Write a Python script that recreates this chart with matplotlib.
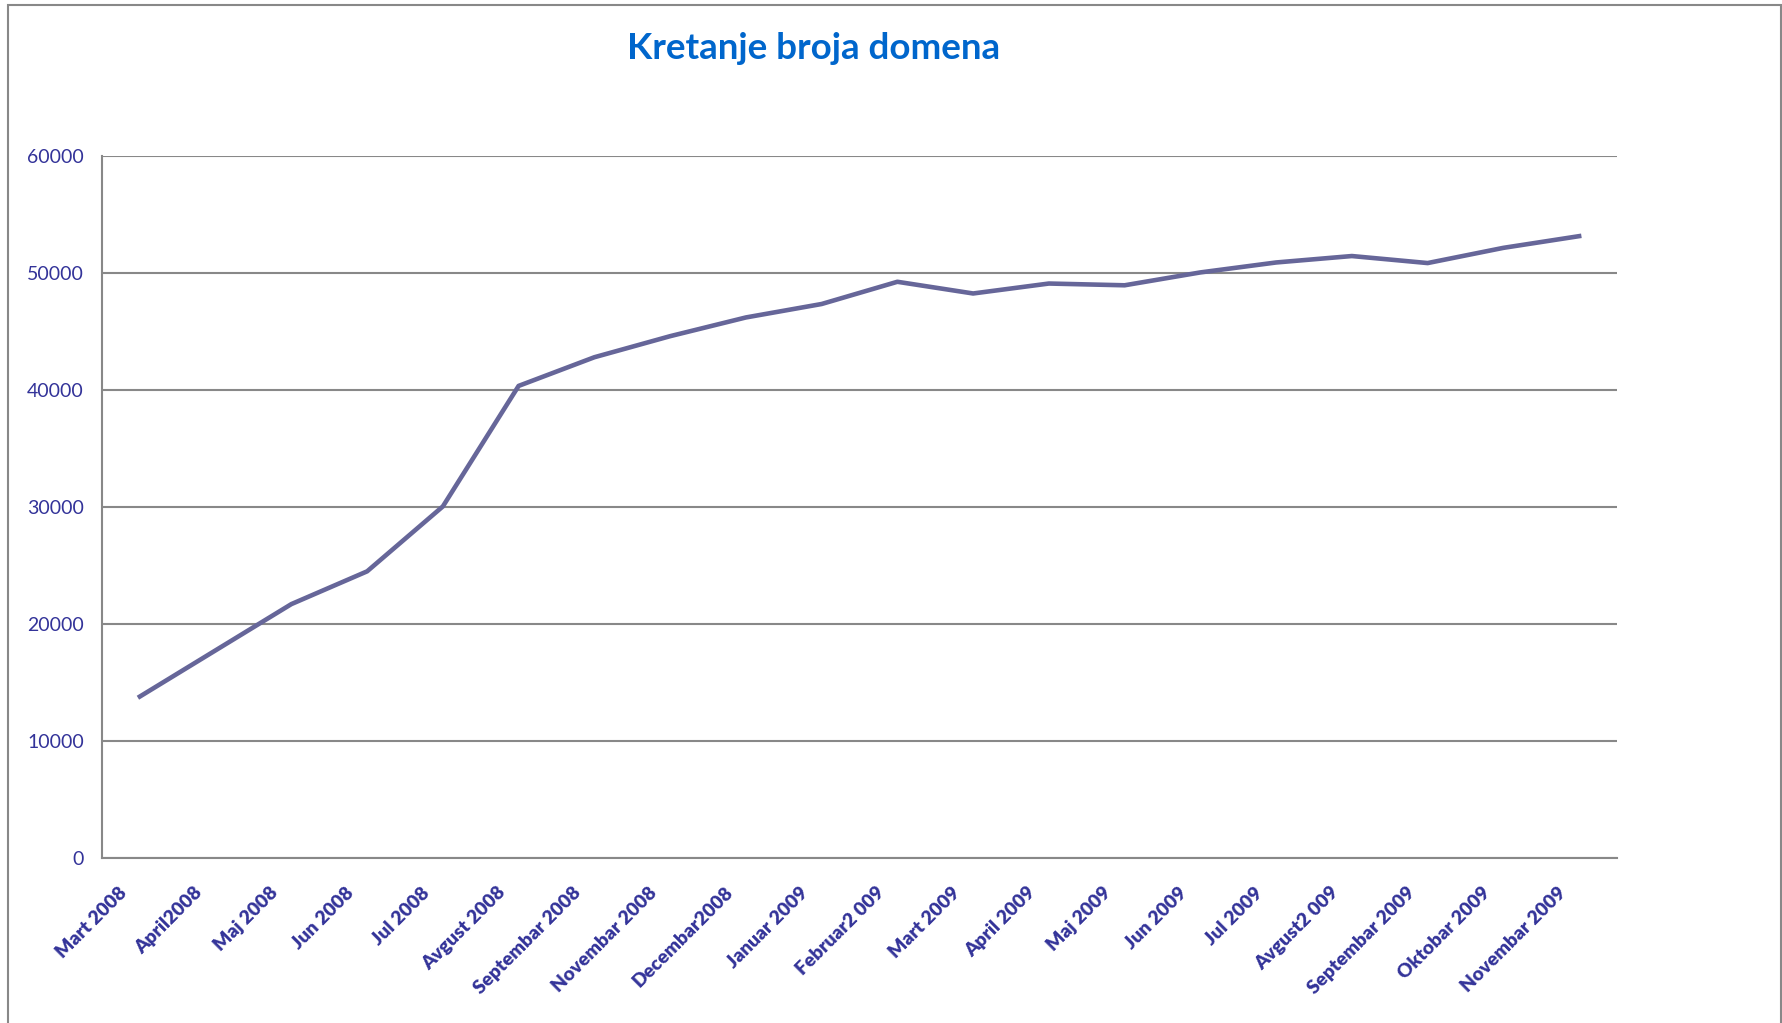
import matplotlib
matplotlib.use('Agg')
import matplotlib.pyplot as plt
import matplotlib.transforms as mtransforms
from matplotlib.patches import Rectangle

plt.rcParams['font.family'] = ['Lato', 'DejaVu Sans']

months = ['Mart 2008', 'April2008', 'Maj 2008', 'Jun 2008', 'Jul 2008',
          'Avgust 2008', 'Septembar 2008', 'Novembar 2008', 'Decembar2008',
          'Januar 2009', 'Februar2 009', 'Mart 2009', 'April 2009', 'Maj 2009',
          'Jun 2009', 'Jul 2009', 'Avgust2 009', 'Septembar 2009',
          'Oktobar 2009', 'Novembar 2009']
domains = [13800, 17750, 21700, 24500, 30050,
           40350, 42800, 44600, 46200,
           47350, 49250, 48250, 49100, 48950,
           50050, 50900, 51450, 50850,
           52150, 53150]
yticks = [0, 10000, 20000, 30000, 40000, 50000, 60000]

txt_col = '#333399'
grid_col = '#888888'

fig = plt.figure(figsize=(17.83, 10.23), dpi=100)
ax = fig.add_axes([0.0572, 0.1613, 0.8497, 0.6862])

x = list(range(len(months)))
ax.plot(x, domains, color='#666699', lw=3.3, zorder=3)

ax.set_xlim(-0.5, len(months) - 0.5)
ax.set_ylim(0, 60000)
ax.set_yticks(yticks)
ax.set_yticklabels([str(v) for v in yticks], color=txt_col, fontsize=14)
ax.yaxis.grid(True, color=grid_col, lw=1.5)
ax.set_axisbelow(True)

ax.tick_params(axis='both', length=0)
ax.tick_params(axis='y', pad=13)
ax.tick_params(axis='x', pad=23)

ax.set_xticks(x)
ax.set_xticklabels(months, rotation=45, ha='right', va='center',
                   rotation_mode='anchor', color=txt_col, fontsize=13.8,
                   fontweight='heavy')
# shift the slanted labels a bit to the left, like the original
# (done after tick_params, which would reset the transform)
off = mtransforms.ScaledTranslation(-0.16, 0, fig.dpi_scale_trans)
for lab in ax.get_xticklabels():
    lab.set_transform(lab.get_transform() + off)

for s in ['top', 'right']:
    ax.spines[s].set_visible(False)
for s in ['left', 'bottom']:
    ax.spines[s].set_color(grid_col)
    ax.spines[s].set_linewidth(1.5)

fig.text(0.4565, 0.953, 'Kretanje broja domena', ha='center', va='center',
         fontsize=26.5, fontweight='bold', color='#0066CC')

fig.patches.append(Rectangle((0.0045, -0.02), 0.9945, 1.015,
                             transform=fig.transFigure, fill=False,
                             edgecolor='#888888', lw=1.5))

fig.savefig('out.png', dpi=100)
